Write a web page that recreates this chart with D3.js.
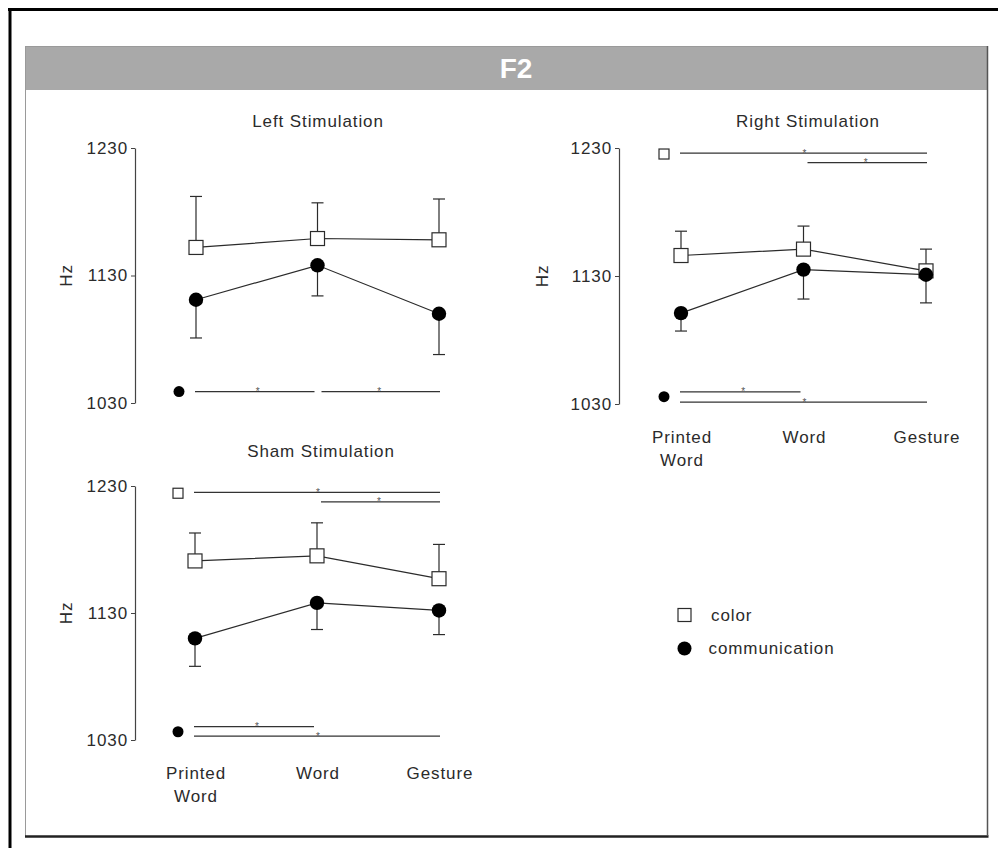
<!DOCTYPE html>
<html>
<head>
<meta charset="utf-8">
<script src="https://cdnjs.cloudflare.com/ajax/libs/d3/7.8.5/d3.min.js"></script>
<style>
	body { margin:0; background:#fff; }
	svg { display:block; font-family:"Liberation Sans", Arial, Helvetica, sans-serif; }
</style>
</head>
<body>
<svg id="svg" width="998" height="848"></svg>
<script>

// categories on the x axis and the y ticks
var categories = ["Printed Word", "Word", "Gesture"];
var yTicks = [1030, 1130, 1230];
var seriesNames = ["color", "communication"];

// left stimulation, mean Hz and error
var leftColor = [1152, 1159, 1158];
var leftColorErr = [40, 28, 32];
var leftComm = [1111, 1138, 1100];
var leftCommErr = [30, 24, 32];

// right stimulation
var rightColor = [1146, 1151, 1134];
var rightColorErr = [19, 18, 17];
var rightComm = [1101, 1135, 1131];
var rightCommErr = [14, 23, 22];

// sham stimulation
var shamColor = [1171, 1175, 1157];
var shamColorErr = [22, 26, 27];
var shamComm = [1110, 1138, 1132];
var shamCommErr = [22, 21, 19];

// significant comparisons ( from category, to category, Hz level of the bar )
var leftSigComm = [ {from:0, to:1, hz:1039}, {from:1, to:2, hz:1039} ];
var rightSigColor = [ {from:0, to:2, hz:1226}, {from:1, to:2, hz:1218.5} ];
var rightSigComm = [ {from:0, to:1, hz:1039.5}, {from:0, to:2, hz:1031.5} ];
var shamSigColor = [ {from:0, to:2, hz:1225}, {from:1, to:2, hz:1217.5} ];
var shamSigComm = [ {from:0, to:1, hz:1040.5}, {from:0, to:2, hz:1033} ];


var svg = d3.select("#svg");

var fontSize = 17;
var spacing = "0.9px";
var ink = "#2b2b2b";

////////////////////////////
// frame and header

var headerTop = 46, headerBottom = 89;
var boxLeft = 25, boxRight = 987, boxBottom = 836;

svg.append("line").attr("x1", 8).attr("x2", 998).attr("y1", 9.5).attr("y2", 9.5)
	.attr("stroke", "#000").attr("stroke-width", 3);
svg.append("line").attr("x1", 10).attr("x2", 10).attr("y1", 8).attr("y2", 848)
	.attr("stroke", "#000").attr("stroke-width", 3);

svg.append("rect")
	.attr("x", boxLeft + 0.5).attr("y", headerTop + 0.5)
	.attr("width", boxRight - boxLeft).attr("height", boxBottom - headerTop)
	.attr("fill", "#fff").attr("stroke", "#9a9a9a");

svg.append("rect")
	.attr("x", boxLeft + 1).attr("y", headerTop + 1)
	.attr("width", boxRight - boxLeft - 1).attr("height", headerBottom - headerTop)
	.attr("fill", "#a9a9a9");

svg.append("line").attr("x1", boxLeft).attr("x2", boxRight + 1.5).attr("y1", boxBottom + 0.5).attr("y2", boxBottom + 0.5)
	.attr("stroke", "#222").attr("stroke-width", 2.5);
svg.append("line").attr("x1", boxRight + 0.5).attr("x2", boxRight + 0.5).attr("y1", headerTop).attr("y2", boxBottom)
	.attr("stroke", "#555").attr("stroke-width", 1.5);

svg.append("text")
	.attr("x", 516).attr("y", (headerTop + headerBottom) / 2)
	.attr("dy", "0.36em")
	.attr("text-anchor", "middle")
	.attr("font-size", 28).attr("font-weight", "bold")
	.attr("fill", "#fff")
	.text("F2");


////////////////////////////
// panels ( layout only, values come from the arrays above )

var panels = [
	{ title:"Left Stimulation", titleX:318, titleY:127, axisX:135, hzX:66, x0:196, x1:439, yTop:148, yBottom:403,
	  showCats:false, color:leftColor, colorErr:leftColorErr, comm:leftComm, commErr:leftCommErr,
	  sig:[ {series:"communication", mark:1039, bars:leftSigComm} ] },
	{ title:"Right Stimulation", titleX:808, titleY:127, axisX:619, hzX:542, x0:681, x1:926, yTop:148, yBottom:404,
	  showCats:true, color:rightColor, colorErr:rightColorErr, comm:rightComm, commErr:rightCommErr,
	  sig:[ {series:"color", mark:1225.3, bars:rightSigColor}, {series:"communication", mark:1035.7, bars:rightSigComm} ] },
	{ title:"Sham Stimulation", titleX:321, titleY:457, axisX:135, hzX:66, x0:195, x1:439, yTop:486, yBottom:740,
	  showCats:true, color:shamColor, colorErr:shamColorErr, comm:shamComm, commErr:shamCommErr,
	  sig:[ {series:"color", mark:1224.3, bars:shamSigColor}, {series:"communication", mark:1036.5, bars:shamSigComm} ] }
];


var drawSquare = function( sel, size ) {
	sel.attr("width", size).attr("height", size)
		.attr("fill", "#fff").attr("stroke", ink).attr("stroke-width", 1.2);
};

var drawPanel = function( p )
{
	var g = svg.append("g");

	var x = d3.scalePoint().domain(categories).range([p.x0, p.x1]);
	var y = d3.scaleLinear().domain([1030, 1230]).range([p.yBottom, p.yTop]);

	// y axis
	var axisG = g.append("g")
		.attr("transform", "translate(" + p.axisX + ",0)")
		.call(d3.axisLeft(y).tickValues(yTicks).tickSize(4).tickSizeOuter(0).tickPadding(3).tickFormat(d3.format("d")));

	axisG.attr("font-family", null).attr("font-size", null);
	axisG.select(".domain").attr("stroke", "#444").attr("stroke-width", 1.2);
	axisG.selectAll(".tick line").attr("stroke", "#444");
	axisG.selectAll(".tick text")
		.attr("font-size", fontSize).attr("letter-spacing", spacing).attr("fill", ink);

	// Hz label
	g.append("text")
		.attr("transform", "translate(" + p.hzX + "," + y(1130) + ") rotate(-90)")
		.attr("text-anchor", "middle").attr("dy", "0.35em")
		.attr("font-size", fontSize).attr("letter-spacing", spacing).attr("fill", ink)
		.text("Hz");

	// title
	g.append("text")
		.attr("x", p.titleX).attr("y", p.titleY)
		.attr("text-anchor", "middle")
		.attr("font-size", fontSize).attr("letter-spacing", spacing).attr("fill", ink)
		.text(p.title);

	// category labels
	if ( p.showCats )
	{
		var cat = g.selectAll(".cat").data(categories).enter().append("text")
			.attr("class", "cat")
			.attr("text-anchor", "middle")
			.attr("font-size", fontSize).attr("letter-spacing", spacing).attr("fill", ink);

		cat.selectAll("tspan")
			.data(function(d){ return d.split(" ").map(function(w){ return {w:w, c:d}; }); })
			.enter().append("tspan")
			.attr("x", function(d){ return x(d.c) + 1; })
			.attr("y", function(d, i){ return p.yBottom + 39 + i * 23; })
			.text(function(d){ return d.w; });
	}

	var colorPts = p.color.map(function(v, i){ return {c:categories[i], v:v, e:p.colorErr[i]}; });
	var commPts = p.comm.map(function(v, i){ return {c:categories[i], v:v, e:p.commErr[i]}; });

	// error bars, color goes up and communication goes down
	var errBars = function( pts, dir ) {
		var eg = g.append("g").attr("stroke", ink).attr("stroke-width", 1.2);
		eg.selectAll(".stem").data(pts).enter().append("line")
			.attr("x1", function(d){ return x(d.c); }).attr("x2", function(d){ return x(d.c); })
			.attr("y1", function(d){ return y(d.v); })
			.attr("y2", function(d){ return y(d.v + dir * d.e); });
		eg.selectAll(".cap").data(pts).enter().append("line")
			.attr("x1", function(d){ return x(d.c) - 6; }).attr("x2", function(d){ return x(d.c) + 6; })
			.attr("y1", function(d){ return y(d.v + dir * d.e); })
			.attr("y2", function(d){ return y(d.v + dir * d.e); });
	};
	errBars(colorPts, 1);
	errBars(commPts, -1);

	// connecting lines
	var line = d3.line().x(function(d){ return x(d.c); }).y(function(d){ return y(d.v); });
	g.append("path").datum(colorPts).attr("d", line).attr("fill", "none").attr("stroke", ink).attr("stroke-width", 1.2);
	g.append("path").datum(commPts).attr("d", line).attr("fill", "none").attr("stroke", ink).attr("stroke-width", 1.2);

	// markers
	g.selectAll(".sq").data(colorPts).enter().append("rect")
		.attr("x", function(d){ return x(d.c) - 7; })
		.attr("y", function(d){ return y(d.v) - 7; })
		.call(drawSquare, 14);

	g.selectAll(".dot").data(commPts).enter().append("circle")
		.attr("cx", function(d){ return x(d.c); })
		.attr("cy", function(d){ return y(d.v); })
		.attr("r", 7.2)
		.attr("fill", "#000");

	// significance bars
	p.sig.forEach(function(s){
		var mx = x(categories[0]) - 17;
		if ( s.series == "color" )
		{
			g.append("rect").attr("x", mx - 5).attr("y", y(s.mark) - 5).call(drawSquare, 10);
		}
		else
		{
			g.append("circle").attr("cx", mx).attr("cy", y(s.mark)).attr("r", 5.5).attr("fill", "#000");
		}

		var bars = g.selectAll(null).data(s.bars).enter().append("g");

		bars.append("line")
			.attr("x1", function(d){ return x(categories[d.from]) + (d.from > 0 ? 4 : -1); })
			.attr("x2", function(d){ return x(categories[d.to]) + (d.to < 2 ? -3 : 1); })
			.attr("y1", function(d){ return y(d.hz); })
			.attr("y2", function(d){ return y(d.hz); })
			.attr("stroke", "#333").attr("stroke-width", 1.2);

		bars.append("text")
			.attr("x", function(d){ return (x(categories[d.from]) + x(categories[d.to])) / 2 + 1; })
			.attr("y", function(d){ return y(d.hz) + 3.5; })
			.attr("text-anchor", "middle")
			.attr("font-size", 10).attr("fill", "#555")
			.text("*");
	});
};

panels.forEach(drawPanel);


////////////////////////////
// legend

var legend = svg.selectAll(".legend").data(seriesNames).enter().append("g")
	.attr("class", "legend")
	.attr("transform", function(d, i){ return "translate(684.5," + (615 + i * 33.5) + ")"; });

legend.each(function(d){
	var l = d3.select(this);
	if ( d == "color" ) l.append("rect").attr("x", -6.5).attr("y", -6.5).call(drawSquare, 13);
	else l.append("circle").attr("r", 7).attr("fill", "#000");
});

legend.append("text")
	.attr("x", function(d){ return d == "color" ? 26.5 : 24; })
	.attr("y", 5.5)
	.attr("font-size", fontSize).attr("letter-spacing", spacing).attr("fill", ink)
	.text(function(d){ return d; });

</script>
</body>
</html>
